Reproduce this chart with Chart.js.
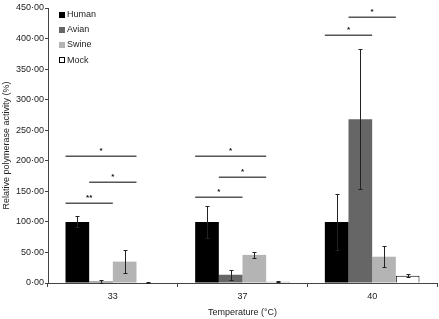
<!DOCTYPE html>
<html>
<head>
<meta charset="utf-8">
<script src="https://cdn.jsdelivr.net/npm/chart.js@4"></script>
<style>
  html, body { margin: 0; padding: 0; background: #fff; }
  #wrap { width: 439px; height: 319px; }
</style>
</head>
<body>
<div id="wrap"><canvas id="c" width="439" height="319"></canvas></div>
<script>
// temperatures (x categories)
var temps = ['33', '37', '40'];

// mean relative polymerase activity (%) per virus
var human = [100, 100, 100];
var avian = [2.5, 13.5, 268];
var swine = [35, 46, 43];
var mock = [1, 2, 12];

// error bar half-lengths
var humanErr = [9, 26, 46];
var avianErr = [3, 8, 115];
var swineErr = [18.5, 4.5, 17];
var mockErr = [0.5, 0.5, 2.5];

// significance brackets: group index, first/last dataset, height (%), label
var sigGroup = [0, 0, 0, 1, 1, 1, 2, 2];
var sigFrom = [0, 1, 0, 0, 1, 0, 0, 1];
var sigTo = [1, 2, 2, 1, 2, 2, 1, 2];
var sigY = [131, 166, 208, 140, 174, 208, 405, 436];
var sigLabel = ['**', '*', '*', '*', '*', '*', '*', '*'];

var yTicks = [0, 50, 100, 150, 200, 250, 300, 350, 400, 450];

var FONT = 'Liberation Sans, Arial, sans-serif';

// error bars drawn over the bars
var errorBarPlugin = {
  id: 'errorBars',
  afterDatasetsDraw: function (chart) {
    var ctx = chart.ctx;
    var y = chart.scales.y;
    ctx.save();
    ctx.strokeStyle = '#222';
    ctx.lineWidth = 1;
    chart.data.datasets.forEach(function (ds, di) {
      var meta = chart.getDatasetMeta(di);
      meta.data.forEach(function (bar, i) {
        var v = ds.data[i], e = ds.errors[i];
        var top = Math.round(y.getPixelForValue(v + e)) + 0.5;
        var bot = Math.round(y.getPixelForValue(Math.max(v - e, 0))) + 0.5;
        var x = Math.round(bar.x) + 0.5;
        ctx.beginPath();
        ctx.moveTo(x, top); ctx.lineTo(x, bot);
        ctx.moveTo(x - 2, top); ctx.lineTo(x + 2, top);
        ctx.moveTo(x - 2, bot); ctx.lineTo(x + 2, bot);
        ctx.stroke();
      });
    });
    ctx.restore();
  }
};

// significance lines with asterisks
var sigPlugin = {
  id: 'sigBrackets',
  afterDatasetsDraw: function (chart) {
    var ctx = chart.ctx;
    var y = chart.scales.y;
    ctx.save();
    ctx.strokeStyle = '#555';
    ctx.lineWidth = 1.5;
    ctx.fillStyle = '#111';
    ctx.font = 'bold 8px ' + FONT;
    ctx.textAlign = 'center';
    ctx.textBaseline = 'alphabetic';
    for (var k = 0; k < sigY.length; k++) {
      var a = chart.getDatasetMeta(sigFrom[k]).data[sigGroup[k]];
      var b = chart.getDatasetMeta(sigTo[k]).data[sigGroup[k]];
      var x1 = a.x - a.width / 2;
      var x2 = b.x + b.width / 2;
      var py = Math.round(y.getPixelForValue(sigY[k])) + 0.25;
      ctx.beginPath();
      ctx.moveTo(x1, py); ctx.lineTo(x2, py);
      ctx.stroke();
      ctx.fillText(sigLabel[k], (x1 + x2) / 2, py - 3);
    }
    ctx.restore();
  }
};

// vertical legend in the top-left corner
var legendPlugin = {
  id: 'boxLegend',
  afterDraw: function (chart) {
    var ctx = chart.ctx;
    ctx.save();
    ctx.font = '9px ' + FONT;
    ctx.textBaseline = 'middle';
    ctx.textAlign = 'left';
    chart.data.datasets.forEach(function (ds, i) {
      var cy = 14.5 + i * 15.2;
      ctx.fillStyle = ds.backgroundColor;
      ctx.fillRect(59, Math.round(cy - 3), 6, 6);
      if (ds.borderWidth) {
        ctx.strokeStyle = '#000';
        ctx.lineWidth = 1;
        ctx.strokeRect(59.5, Math.round(cy - 3) + 0.5, 5, 5);
      }
      ctx.fillStyle = '#222';
      ctx.fillText(ds.label, 67, cy);
    });
    ctx.restore();
  }
};

function fmt(v) {
  return v.toFixed(2).replace('.', '\u00b7');
}

new Chart(document.getElementById('c'), {
  type: 'bar',
  data: {
    labels: temps,
    datasets: [
      { label: 'Human', data: human, errors: humanErr, backgroundColor: '#000000', borderWidth: 0 },
      { label: 'Avian', data: avian, errors: avianErr, backgroundColor: '#666666', borderWidth: 0 },
      { label: 'Swine', data: swine, errors: swineErr, backgroundColor: '#b4b4b4', borderWidth: 0 },
      { label: 'Mock', data: mock, errors: mockErr, backgroundColor: '#ffffff', borderColor: '#000000', borderWidth: 1 }
    ]
  },
  options: {
    responsive: false,
    animation: false,
    layout: { padding: { top: 8, right: 2, left: 0, bottom: 0 } },
    datasets: { bar: { categoryPercentage: 0.73, barPercentage: 1 } },
    plugins: { legend: { display: false }, tooltip: { enabled: false } },
    scales: {
      x: {
        offset: true,
        grid: { offset: true, drawOnChartArea: false, tickLength: 4, color: '#444' },
        border: { color: '#444', width: 1 },
        ticks: { color: '#222', font: { family: FONT, size: 9 }, padding: 4 },
        title: { display: true, text: 'Temperature (\u00b0C)', color: '#222', font: { family: FONT, size: 9 }, padding: { top: 0, bottom: 1 } },
        afterFit: function (s) { s.height = 36; }
      },
      y: {
        min: 0,
        max: 450,
        afterBuildTicks: function (s) { s.ticks = yTicks.map(function (v) { return { value: v }; }); },
        grid: { drawOnChartArea: false, tickLength: 3, color: '#444' },
        border: { color: '#444', width: 1 },
        ticks: { color: '#222', font: { family: FONT, size: 9 }, padding: 1, callback: function (v) { return fmt(v); } },
        title: { display: true, text: 'Relative polymerase activity (%)', color: '#222', font: { family: FONT, size: 9 }, padding: { top: 1, bottom: 0 } },
        afterFit: function (s) { s.width = 48; }
      }
    }
  },
  plugins: [errorBarPlugin, sigPlugin, legendPlugin]
});
</script>
</body>
</html>
